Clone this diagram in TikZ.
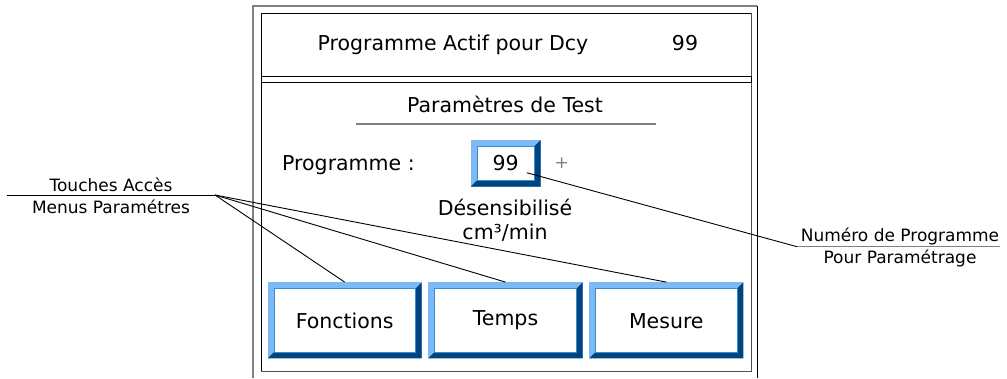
\documentclass[tikz,border=0pt]{standalone}
\usepackage{fontspec}
\setmainfont{DejaVu Sans}
\definecolor{bevlight}{RGB}{125,185,245}
\definecolor{bevdark}{RGB}{0,68,128}
\definecolor{bevline}{RGB}{55,140,210}
\definecolor{framegray}{RGB}{128,128,128}
\definecolor{darkgray}{RGB}{80,80,80}
\tikzset{
  big/.style={font=\fontsize{20.5}{24}\selectfont, inner sep=0pt, anchor=base},
  small/.style={font=\fontsize{17}{20}\selectfont, inner sep=0pt, anchor=base},
  lead/.style={black, line width=0.9pt},
}
% bevelled button: name, x1, y1, x2, y2, bevel, label, label baseline
\newcommand\bevbox[8]{%
  \fill[bevlight] (#2,#3) rectangle (#4,#5);
  \fill[bevdark] (#4,#3) -- (#4,#5) -- (#2,#5) -- ({#2+#6},{#5-#6})
    -- ({#4-#6},{#5-#6}) -- ({#4-#6},{#3+#6}) -- cycle;
  \filldraw[fill=white, draw=bevline, line width=0.6pt]
    ({#2+#6},{#3+#6}) rectangle ({#4-#6},{#5-#6});
  \node[inner sep=0pt, minimum width={#4-#2}, minimum height={#5-#3}]
    (#1) at ({(#2+#4)/2},{(#3+#5)/2}) {};
  \node[big] (#1txt) at ({(#2+#4)/2},#8) {#7};
}
\begin{document}
\begin{tikzpicture}[x=1pt,y=-1pt]
\useasboundingbox (0,0) rectangle (1007,378);

% outer frame
\draw[framegray, line width=2pt] (253,378) -- (253,5.5) -- (757,5.5);
\draw[black, line width=1pt] (757,5.5) -- (757,378);

% inner frame
\draw[black, line width=1pt] (261,371) -- (261,13.3) -- (751,13.3);
\draw[darkgray, line width=1pt] (751,13.3) -- (751,371) -- (261,371);

% header
\node[big] (header) at (453,50) {Programme Actif pour Dcy};
\node[big] (headnum) at (685,50) {99};
\draw[black, line width=1pt] (261,76.3) rectangle (751,82);

% test parameters
\node[big] (partitle) at (505,112) {Paramètres de Test};
\draw[framegray, line width=1.5pt] (356,124) -- (656,124);

\node[big, anchor=base west] (proglbl) at (282,170) {Programme :};
\bevbox{progbox}{470.7}{140}{540.7}{186.7}{6.6}{99}{170}
\node[small, gray, anchor=center] (plus) at (561.7,163) {+};

\node[big] (desens) at (505,215) {Désensibilisé};
\node[big] (unit) at (505,239) {cm³/min};

% menu buttons
\bevbox{fonctions}{267.7}{282.3}{421.7}{358.3}{6.2}{Fonctions}{328}
\bevbox{temps}{428.3}{282.3}{582.7}{358.3}{6.2}{Temps}{325}
\bevbox{mesure}{589.3}{282.3}{743.3}{358.3}{6.2}{Mesure}{328}

% left callout
\node[small] (touches1) at (111,191.7) {Touches Accès};
\node[small] (touches2) at (111,213.3) {Menus Paramétres};
\coordinate (tstart) at (7,195);
\coordinate (tjoin) at (215,195);
\draw[lead] (tstart) -- (tjoin);
\draw[lead] (tjoin) -- (fonctions.north);
\draw[lead] (tjoin) -- (temps.north);
\draw[lead] (tjoin) -- (mesure.north);

% right callout
\node[small] (num1) at (900,241.7) {Numéro de Programme};
\node[small] (num2) at (900,263.3) {Pour Paramétrage};
\coordinate (ntip) at (526.7,172.7);
\coordinate (nbend) at (797,246.7);
\coordinate (nend) at (1000,246.7);
\draw[lead] (ntip) -- (nbend);
\draw[framegray, line width=1pt] (nbend) -- (nend);
\end{tikzpicture}
\end{document}
